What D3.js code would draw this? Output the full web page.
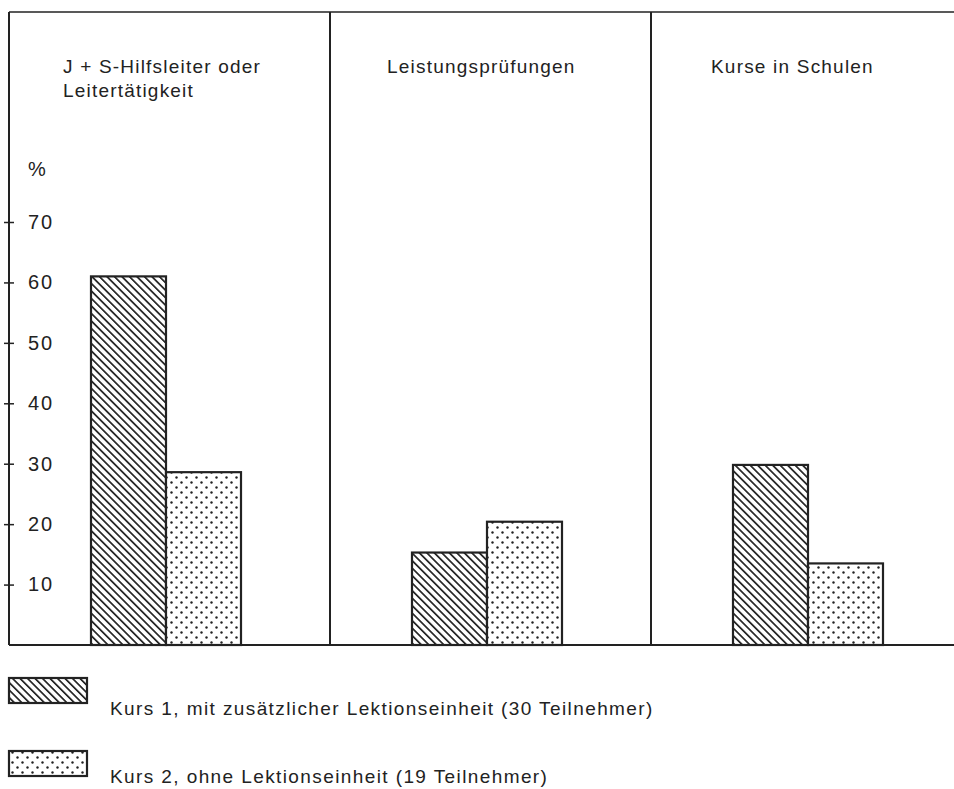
<!DOCTYPE html>
<html>
<head>
<meta charset="utf-8">
<script src="https://cdn.jsdelivr.net/npm/d3@7"></script>
<style>
  body { margin: 0; background: #fff; }
  text { font-family: "Liberation Sans", Arial, sans-serif; fill: #222; }
</style>
</head>
<body>
<div id="chart"></div>
<script>
// Data
var categories = ["J + S-Hilfsleiter oder|Leitertätigkeit", "Leistungsprüfungen", "Kurse in Schulen"];
var seriesNames = ["Kurs 1, mit zusätzlicher Lektionseinheit (30 Teilnehmer)", "Kurs 2, ohne Lektionseinheit (19 Teilnehmer)"];
var kurs1 = [61, 15.3, 29.8];
var kurs2 = [28.6, 20.4, 13.5];
var yTicks = [10, 20, 30, 40, 50, 60, 70];

var width = 954;
var height = 789;
var frameLeft = 9, frameTop = 12, base = 645;
var ink = "#222";

var svg = d3.select("#chart")
  .append("svg")
  .attr("width", width)
  .attr("height", height);

// Patterns
var defs = svg.append("defs");
var hatch = defs.append("pattern")
  .attr("id", "hatch")
  .attr("patternUnits", "userSpaceOnUse")
  .attr("width", 5.3)
  .attr("height", 5.3)
  .attr("patternTransform", "rotate(-45)");
hatch.append("rect").attr("width", 5.3).attr("height", 5.3).attr("fill", "#fff");
hatch.append("line")
  .attr("x1", 0).attr("y1", 0).attr("x2", 0).attr("y2", 5.3)
  .attr("stroke", ink).attr("stroke-width", 3.4);

var dots = defs.append("pattern")
  .attr("id", "dots")
  .attr("patternUnits", "userSpaceOnUse")
  .attr("width", 10)
  .attr("height", 10);
dots.append("rect").attr("width", 10).attr("height", 10).attr("fill", "#fff");
dots.append("circle").attr("cx", 2.5).attr("cy", 2.5).attr("r", 1.2).attr("fill", ink);
dots.append("circle").attr("cx", 7.5).attr("cy", 7.5).attr("r", 1.2).attr("fill", ink);

var fills = ["url(#hatch)", "url(#dots)"];

// Scales
var x0 = d3.scaleBand()
  .domain(categories)
  .range([frameLeft, frameLeft + 3 * 321])
  .padding(0);

var x1 = d3.scaleBand()
  .domain([0, 1])
  .range([82, 232])
  .padding(0);

var y = d3.scaleLinear()
  .domain([0, 70])
  .range([base, 222]);

// Frame
svg.append("line")
  .attr("x1", frameLeft).attr("x2", width).attr("y1", frameTop).attr("y2", frameTop)
  .attr("stroke", ink).attr("stroke-width", 1.5);
svg.append("line")
  .attr("x1", frameLeft).attr("x2", width).attr("y1", base).attr("y2", base)
  .attr("stroke", ink).attr("stroke-width", 2);
svg.append("line")
  .attr("x1", frameLeft).attr("x2", frameLeft).attr("y1", frameTop).attr("y2", base)
  .attr("stroke", ink).attr("stroke-width", 2);

categories.slice(1).forEach(function(c) {
  svg.append("line")
    .attr("x1", x0(c)).attr("x2", x0(c)).attr("y1", frameTop).attr("y2", base)
    .attr("stroke", ink).attr("stroke-width", 2);
});

// Y axis
var yAxis = d3.axisRight(y)
  .tickValues(yTicks)
  .tickSizeInner(5)
  .tickSizeOuter(0)
  .tickPadding(14);

var gy = svg.append("g")
  .attr("transform", "translate(" + frameLeft + ",0)")
  .call(yAxis);
gy.select(".domain").remove();
gy.selectAll(".tick line").attr("x1", -5).attr("x2", 5).attr("stroke", ink).attr("stroke-width", 1.5);
gy.selectAll(".tick text")
  .attr("font-size", 20)
  .attr("letter-spacing", 2)
  .attr("font-family", "Liberation Sans, Arial, sans-serif")
  .attr("fill", ink);

svg.append("text")
  .attr("x", 28)
  .attr("y", 176)
  .attr("font-size", 20)
  .text("%");

// Category titles
categories.forEach(function(c, k) {
  var tx = x0(c) + 54 + k * 3;
  var t = svg.append("text")
    .attr("x", tx)
    .attr("y", 73)
    .attr("font-size", 19)
    .attr("letter-spacing", 1.2);
  c.split("|").forEach(function(line, i) {
    t.append("tspan")
      .attr("x", tx)
      .attr("dy", i === 0 ? 0 : 24)
      .text(line);
  });
});

// Bars
var rows = categories.map(function(c, i) {
  return { cat: c, values: [kurs1[i], kurs2[i]] };
});

var groups = svg.selectAll("g.group")
  .data(rows)
  .enter()
  .append("g")
  .attr("class", "group")
  .attr("transform", function(d) { return "translate(" + x0(d.cat) + ",0)"; });

groups.selectAll("rect")
  .data(function(d) { return d.values; })
  .enter()
  .append("rect")
  .attr("x", function(d, i) { return x1(i); })
  .attr("y", function(d) { return y(d); })
  .attr("width", x1.bandwidth())
  .attr("height", function(d) { return base - y(d); })
  .attr("fill", function(d, i) { return fills[i]; })
  .attr("stroke", ink)
  .attr("stroke-width", 2.2);

// Legend
var legend = svg.selectAll("g.legend")
  .data(seriesNames)
  .enter()
  .append("g")
  .attr("class", "legend");

legend.append("rect")
  .attr("x", 9)
  .attr("y", function(d, i) { return 678 + i * 73; })
  .attr("width", 78)
  .attr("height", 25)
  .attr("fill", function(d, i) { return fills[i]; })
  .attr("stroke", ink)
  .attr("stroke-width", 2.2);

legend.append("text")
  .attr("x", 110)
  .attr("y", function(d, i) { return 715 + i * 68; })
  .attr("font-size", 19)
  .attr("letter-spacing", 1.4)
  .text(function(d) { return d; });
</script>
</body>
</html>
